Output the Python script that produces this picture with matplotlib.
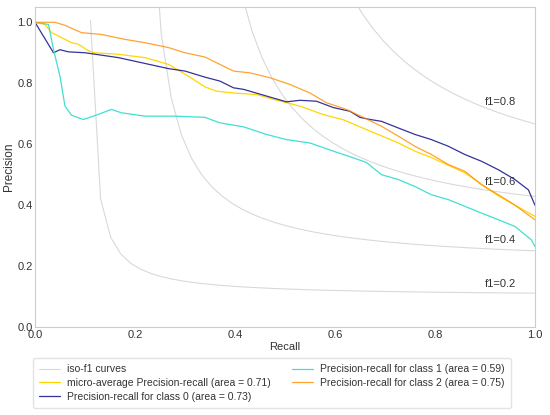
import numpy as np
import matplotlib
matplotlib.use('Agg')
import matplotlib.pyplot as plt
import seaborn as sns

sns.set_style('white')
plt.rcParams['font.family'] = ['Liberation Sans', 'DejaVu Sans']

# iso-f1 levels
f_scores = [0.2, 0.4, 0.6, 0.8]

# micro-average (gold)
rec_micro = [0.0, 0.02, 0.033, 0.053, 0.073, 0.087, 0.107, 0.12, 0.167, 0.22, 0.267, 0.307,
             0.34, 0.363, 0.397, 0.443, 0.477, 0.53, 0.577, 0.617, 0.663, 0.727, 0.76,
             0.793, 0.86, 0.927, 1.0]
prec_micro = [1.0, 0.993, 0.966, 0.95, 0.933, 0.928, 0.906, 0.90, 0.895, 0.884, 0.862, 0.823,
              0.788, 0.774, 0.768, 0.763, 0.747, 0.725, 0.697, 0.68, 0.648, 0.604, 0.577,
              0.556, 0.506, 0.43, 0.363]

# class 0 (navy)
rec_c0 = [0.0, 0.037, 0.05, 0.067, 0.1, 0.167, 0.267, 0.3, 0.34, 0.37, 0.397, 0.417, 0.463,
          0.503, 0.53, 0.563, 0.597, 0.63, 0.65, 0.667, 0.693, 0.727, 0.76, 0.793, 0.827,
          0.86, 0.893, 0.927, 0.96, 0.987, 1.0]
prec_c0 = [1.0, 0.90, 0.91, 0.903, 0.90, 0.884, 0.848, 0.84, 0.82, 0.807, 0.785, 0.78, 0.758,
           0.739, 0.744, 0.741, 0.72, 0.708, 0.688, 0.682, 0.675, 0.653, 0.632, 0.615, 0.593,
           0.566, 0.544, 0.516, 0.484, 0.45, 0.40]

# class 1 (turquoise)
rec_c1 = [0.0, 0.027, 0.037, 0.05, 0.06, 0.073, 0.097, 0.12, 0.153, 0.173, 0.22, 0.28, 0.34,
          0.37, 0.417, 0.463, 0.503, 0.55, 0.597, 0.637, 0.663, 0.693, 0.727, 0.76, 0.793,
          0.827, 0.86, 0.893, 0.927, 0.96, 0.993, 1.0]
prec_c1 = [1.0, 0.993, 0.911, 0.823, 0.725, 0.695, 0.681, 0.694, 0.714, 0.703, 0.692, 0.692,
           0.688, 0.67, 0.657, 0.632, 0.615, 0.604, 0.577, 0.555, 0.54, 0.50, 0.484, 0.461,
           0.434, 0.418, 0.396, 0.374, 0.352, 0.33, 0.286, 0.264]

# class 2 (dark orange)
rec_c2 = [0.0, 0.04, 0.06, 0.093, 0.133, 0.18, 0.22, 0.267, 0.3, 0.34, 0.397, 0.43, 0.47,
          0.51, 0.55, 0.583, 0.623, 0.663, 0.693, 0.727, 0.76, 0.793, 0.827, 0.86, 0.893,
          0.927, 0.96, 1.0]
prec_c2 = [1.0, 1.0, 0.99, 0.966, 0.96, 0.944, 0.933, 0.917, 0.90, 0.886, 0.84, 0.834, 0.818,
           0.796, 0.768, 0.736, 0.714, 0.683, 0.659, 0.626, 0.593, 0.566, 0.533, 0.511, 0.467,
           0.434, 0.40, 0.352]

labels = ['iso-f1 curves',
          'micro-average Precision-recall (area = 0.71)',
          'Precision-recall for class 0 (area = 0.73)',
          'Precision-recall for class 1 (area = 0.59)',
          'Precision-recall for class 2 (area = 0.75)']

fig = plt.figure(figsize=(5.5, 4.15), dpi=100)
ax = fig.add_axes([0.0636, 0.212, 0.909, 0.771])

lines = []
for f_score in f_scores:
    x = np.linspace(0.01, 1)
    y = f_score * x / (2 * x - f_score)
    l, = ax.plot(x[y >= 0], y[y >= 0], color='gray', alpha=0.3, lw=0.8)
    ax.annotate('f1={0:0.1f}'.format(f_score), xy=(0.9, y[45] + 0.02),
                fontsize=8, color='#333333')
lines.append(l)

l, = ax.plot(rec_micro, prec_micro, color='gold', lw=0.9)
lines.append(l)
l, = ax.plot(rec_c0, prec_c0, color='navy', lw=0.9, alpha=0.8)
lines.append(l)
l, = ax.plot(rec_c1, prec_c1, color='turquoise', lw=0.9)
lines.append(l)
l, = ax.plot(rec_c2, prec_c2, color='darkorange', lw=0.9, alpha=0.8)
lines.append(l)

ax.set_xlim([0.0, 1.0])
ax.set_ylim([0.0, 1.05])
ax.set_xticks([0.0, 0.2, 0.4, 0.6, 0.8, 1.0])
ax.set_yticks([0.0, 0.2, 0.4, 0.6, 0.8, 1.0])
ax.tick_params(labelsize=8, labelcolor='#333333', length=0)
ax.tick_params(axis='x', pad=2.5)
ax.tick_params(axis='y', pad=1.5)
ax.set_xlabel('Recall', fontsize=8, color='#333333', labelpad=1)
ax.set_ylabel('Precision', fontsize=8.5, color='#333333', labelpad=2)
for s in ax.spines.values():
    s.set_color('#cccccc')
    s.set_linewidth(0.8)

leg = ax.legend(lines, labels, loc='upper left', bbox_to_anchor=(-0.004, -0.097),
                borderaxespad=0, ncol=2, fontsize=7.5, frameon=True, borderpad=0.6,
                handlelength=2.0, handletextpad=0.7, columnspacing=2.0,
                labelspacing=0.35)
leg.get_frame().set_edgecolor('#dddddd')
for t in leg.get_texts():
    t.set_color('#333333')

fig.savefig('out.png', dpi=100)
